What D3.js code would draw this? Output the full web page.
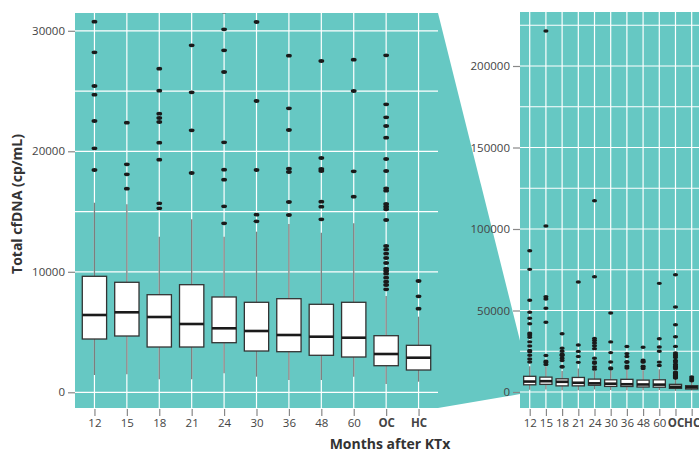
<!DOCTYPE html>
<html lang="en">
<head>
  <meta charset="UTF-8">
  <title>Total cfDNA after KTx</title>
  <style>
    body {
      margin: 0;
      background-color: #fff;
      font-family: 'Open Sans', sans-serif;
    }
    .tick text {
      font-size: 11.5px;
      fill: #444;
    }
  </style>
</head>
<body>
  <svg width="699" height="452"></svg>

  <script src="https://d3js.org/d3.v7.min.js"></script>
  <script>
  // values (cp/mL)
  const months = ["12", "15", "18", "21", "24", "30", "36", "48", "60", "OC", "HC"];
  const whiskerLow = [1436, 1494, 1079, 1079, 1577, 1295, 1021, 1021, 1295, 689, 880];
  const q1 = [4423, 4672, 3759, 3759, 4116, 3427, 3369, 3071, 2929, 2207, 1851];
  const median = [6415, 6639, 6249, 5668, 5311, 5087, 4755, 4614, 4531, 3178, 2871];
  const q3 = [9626, 9129, 8100, 8930, 7909, 7469, 7768, 7303, 7469, 4697, 3900];
  const whiskerHigh = [15734, 15602, 12913, 14357, 12913, 13329, 13967, 13245, 14025, 7992, 6274];
  const outliers = [
    [18448, 20249, 22515, 24698, 25419, 28215, 30755, 33558, 34969, 36012, 41902, 45215, 48896, 56258, 75256, 86687],
    [16896, 18091, 18921, 22373, 42760, 51350, 57055, 58466, 101840, 221472],
    [15270, 15685, 19303, 20714, 22431, 22763, 23120, 25029, 26855, 35767],
    [18199, 21743, 24896, 28797, 67485],
    [14025, 15436, 17643, 18473, 20747, 26581, 28382, 30124, 31600, 32800, 70736, 117362],
    [14191, 14739, 18448, 24174, 30730, 48466],
    [14713, 15793, 18282, 18556, 21768, 23568, 27934],
    [14357, 15402, 15818, 18365, 18531, 19444, 27494],
    [16232, 18340, 25004, 27604, 32699, 66666],
    [8548, 8904, 9179, 9516, 9846, 10066, 10265, 10730, 11145, 11510, 11842, 12141, 14299, 15187, 15402,
     15627, 16730, 16929, 18365, 19361, 21129, 22100, 22822, 23900, 27963, 33926, 41288, 52147, 71963],
    [6938, 7967, 9237]
  ];
  const leftTicks = [0, 10000, 20000, 30000];
  const leftGrid = [0, 10000, 15000, 20000, 25000, 30000];
  const rightTicks = [0, 50000, 100000, 150000, 200000];
  const rightGrid = [0, 25000, 50000, 75000, 100000, 125000, 150000, 175000, 200000, 225000];

  const teal = "#66c8c3";
  const svg = d3.select("svg");

  const boxes = months.map((m, i) => ({
    m, lo: whiskerLow[i], q1: q1[i], med: median[i], q3: q3[i], hi: whiskerHigh[i], out: outliers[i]
  }));

  const yL = d3.scaleLinear().domain([-1303, 31477]).range([408, 13]);
  const yR = d3.scaleLinear().domain([-9816, 233129]).range([408, 12]);
  const xL = d3.scalePoint().domain(months).range([75, 438]).padding(0.6);
  const xR = d3.scalePoint().domain(months).range([520, 701.4]).padding(0.6);

  // zoom wedge between panels
  const [lb, lt] = yL.domain();
  svg.append("polygon")
    .attr("points", [[438, yL(lt)], [520, yR(lt)], [520, yR(lb)], [438, yL(lb)]].map(p => p.join(",")).join(" "))
    .attr("fill", teal);

  function panel(id, x, y, gridVals, ticks, rx, ry) {
    const [x0, x1] = x.range();
    const [y0, y1] = y.range();
    const g = svg.append("g");

    svg.append("clipPath").attr("id", id)
      .append("rect").attr("x", x0).attr("y", y1).attr("width", x1 - x0).attr("height", y0 - y1);

    const p = g.append("g").attr("clip-path", `url(#${id})`);
    p.append("rect")
      .attr("x", x0).attr("y", y1).attr("width", x1 - x0).attr("height", y0 - y1)
      .attr("fill", teal);

    p.selectAll(".hgrid").data(gridVals).enter().append("line")
      .attr("x1", x0).attr("x2", x1)
      .attr("y1", d => y(d)).attr("y2", d => y(d))
      .attr("stroke", "#fff").attr("stroke-width", 1.2);

    p.selectAll(".vgrid").data(months).enter().append("line")
      .attr("x1", d => x(d)).attr("x2", d => x(d))
      .attr("y1", y1).attr("y2", y0)
      .attr("stroke", "#fff").attr("stroke-width", 1.2);

    const bw = x.step() * 0.75;
    const b = p.selectAll(".box").data(boxes).enter().append("g");

    b.append("line")
      .attr("x1", d => x(d.m)).attr("x2", d => x(d.m))
      .attr("y1", d => y(d.lo)).attr("y2", d => y(d.hi))
      .attr("stroke", "#7d7d7d").attr("stroke-width", 1.3);

    b.append("rect")
      .attr("x", d => x(d.m) - bw / 2).attr("width", bw)
      .attr("y", d => y(d.q3)).attr("height", d => y(d.q1) - y(d.q3))
      .attr("fill", "#fff").attr("stroke", "#333").attr("stroke-width", 1.3);

    b.append("line")
      .attr("x1", d => x(d.m) - bw / 2).attr("x2", d => x(d.m) + bw / 2)
      .attr("y1", d => y(d.med)).attr("y2", d => y(d.med))
      .attr("stroke", "#1a1a1a").attr("stroke-width", 2.6);

    b.selectAll("ellipse").data(d => d.out.map(v => ({m: d.m, v}))).enter().append("ellipse")
      .attr("cx", d => x(d.m)).attr("cy", d => y(d.v))
      .attr("rx", rx).attr("ry", ry)
      .attr("fill", "#1a1a1a");

    const ya = g.append("g")
      .attr("transform", `translate(${x0},0)`)
      .call(d3.axisLeft(y).tickValues(ticks).tickSize(7).tickPadding(3).tickFormat(d3.format("d")));
    const xa = g.append("g")
      .attr("transform", `translate(0,${y0 + 1})`)
      .call(d3.axisBottom(x).tickSize(7).tickPadding(3));

    [ya, xa].forEach(a => {
      a.select(".domain").remove();
      a.selectAll(".tick line").attr("stroke", "#888").attr("stroke-width", 1.2);
      a.selectAll(".tick text").attr("font-family", "'Open Sans', sans-serif");
    });
    xa.selectAll(".tick text")
      .attr("font-weight", d => (d === "OC" || d === "HC") ? "bold" : null)
      .attr("fill", d => (d === "OC" || d === "HC") ? "#2a2a2a" : "#444");
  }

  panel("clipL", xL, yL, leftGrid, leftTicks, 2.9, 1.9);
  panel("clipR", xR, yR, rightGrid, rightTicks, 2.6, 1.7);

  svg.append("text")
    .attr("transform", "translate(22,204) rotate(-90)")
    .attr("text-anchor", "middle")
    .attr("font-size", 14).attr("font-weight", "bold").attr("fill", "#333")
    .text("Total cfDNA (cp/mL)");

  svg.append("text")
    .attr("x", 390).attr("y", 449)
    .attr("text-anchor", "middle")
    .attr("font-size", 14).attr("font-weight", "bold").attr("fill", "#333")
    .text("Months after KTx");
  </script>
</body>
</html>
